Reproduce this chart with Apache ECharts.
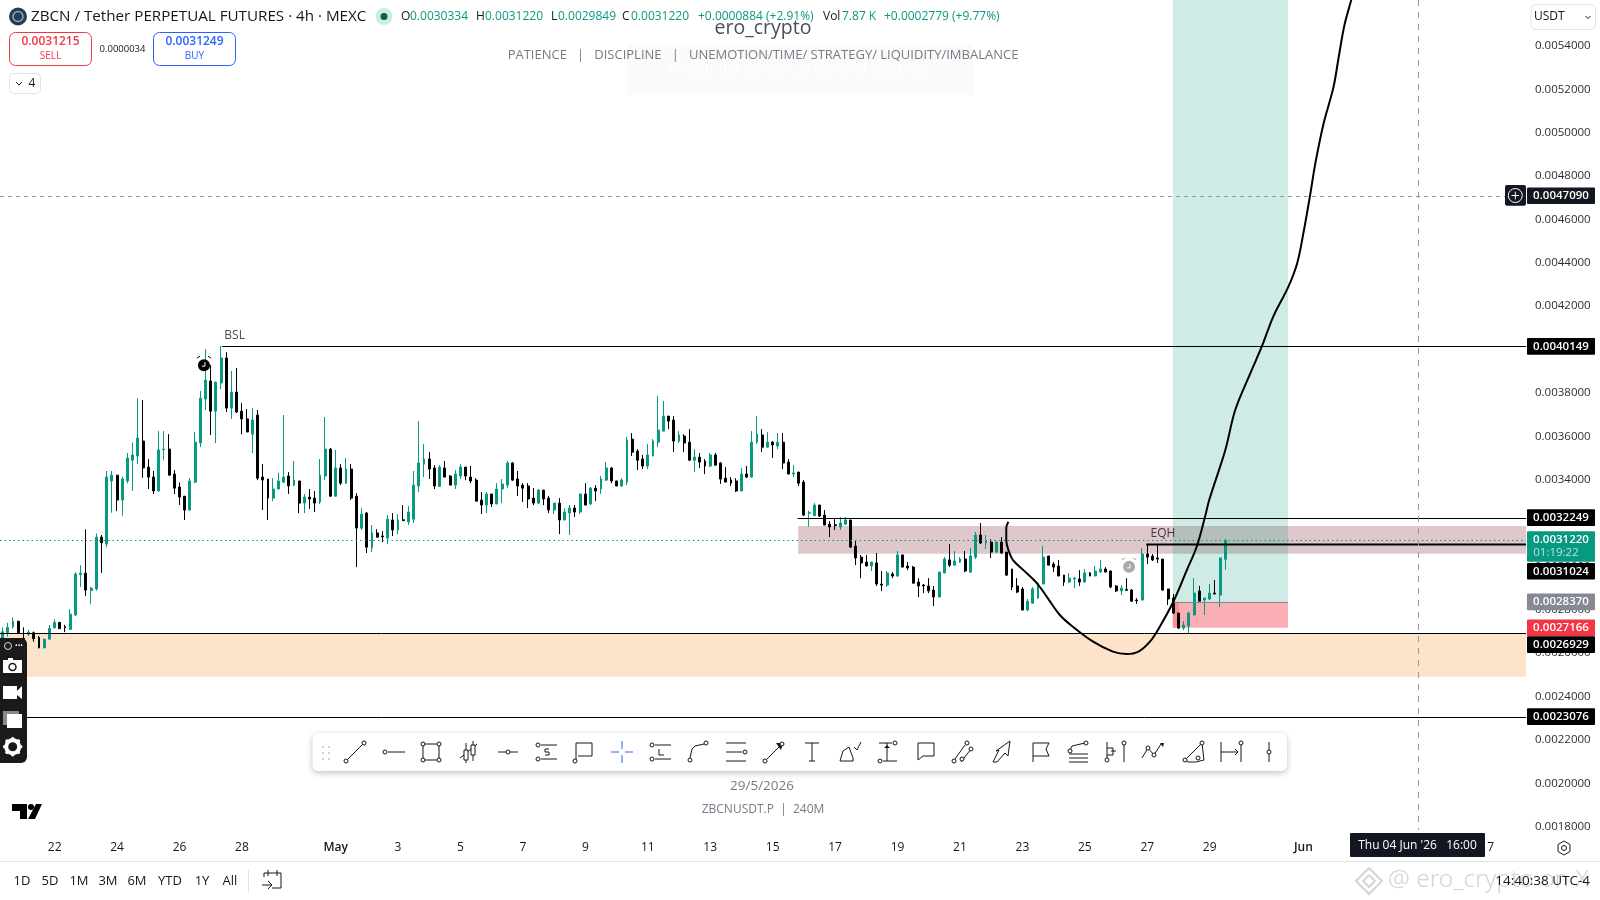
<!DOCTYPE html>
<html><head><meta charset="utf-8">
<style>html,body{margin:0;padding:0;background:#fff}#c{width:1600px;height:900px}</style>
<script src="https://cdn.jsdelivr.net/npm/echarts@6/dist/echarts.min.js"></script>
</head><body><div id="c"></div>
<script>
// All prices below are in millionths of USDT.
const MICRO = 1e-6;
const slotCount = 294;
// Candles: [open, close, low, high]
const candles = [
[2668,2699,2645,2719],[2694,2719,2676,2740],[2722,2747,2714,2765],[2747,2694,2688,2750],[2668,2664,2660,2719],[2688,2697,2679,2707],[2694,2667,2653,2700],[2673,2625,2622,2679],[2625,2664,2622,2668],[2665,2714,2660,2730],
[2717,2742,2714,2757],[2742,2713,2712,2742],[2722,2717,2697,2731],[2710,2780,2707,2803],[2776,2965,2771,2973],[2962,2969,2906,3006],[2969,2891,2863,3171],[2889,2900,2826,2906],[2896,3135,2888,3152],[3135,3109,2971,3145],
[3103,3412,3089,3440],[3394,3421,3248,3440],[3421,3306,3255,3421],[3306,3403,3234,3414],[3394,3500,3383,3523],[3490,3514,3348,3570],[3509,3592,3472,3775],[3578,3454,3409,3767],[3458,3412,3357,3495],[3412,3348,3334,3440],
[3348,3537,3346,3624],[3538,3541,3490,3624],[3541,3421,3420,3610],[3426,3361,3334,3444],[3366,3320,3283,3387],[3324,3260,3214,3324],[3260,3394,3258,3407],[3389,3573,3384,3620],[3569,3776,3550,3809],[3772,3859,3721,4002],
[3855,3716,3606,3929],[3716,3850,3569,3852],[3846,3961,3818,4016],[3961,3730,3712,3988],[3730,3804,3680,3901],[3804,3712,3707,3915],[3716,3680,3610,3753],[3680,3620,3619,3726],[3610,3675,3523,3730],[3698,3407,3398,3721],
[3412,3398,3260,3472],[3403,3315,3214,3403],[3315,3357,3301,3407],[3357,3394,3356,3431],[3389,3412,3384,3698],[3417,3371,3334,3435],[3375,3398,3371,3486],[3394,3292,3246,3394],[3292,3320,3246,3334],[3320,3311,3265,3357],
[3315,3292,3251,3348],[3297,3421,3288,3495],[3417,3541,3398,3689],[3541,3324,3320,3546],[3324,3454,3323,3537],[3454,3384,3375,3472],[3384,3449,3380,3500],[3449,3315,3306,3472],[3324,3177,2997,3338],[3177,3241,3168,3269],
[3246,3089,3062,3251],[3085,3154,3066,3191],[3154,3135,3134,3172],[3140,3137,3112,3163],[3131,3218,3103,3237],[3214,3168,3140,3246],[3168,3214,3149,3241],[3215,3211,3210,3283],[3205,3251,3191,3278],[3218,3375,3200,3440],
[3371,3477,3343,3670],[3472,3495,3412,3564],[3495,3449,3403,3527],[3454,3371,3357,3467],[3369,3458,3366,3467],[3454,3412,3411,3486],[3417,3375,3374,3421],[3375,3426,3357,3444],[3417,3458,3403,3472],[3458,3417,3398,3458],
[3412,3394,3384,3463],[3398,3301,3300,3407],[3306,3283,3242,3343],[3283,3334,3246,3343],[3334,3288,3274,3334],[3288,3357,3287,3384],[3357,3380,3292,3403],[3375,3477,3361,3486],[3477,3398,3394,3481],[3403,3371,3325,3440],
[3375,3361,3297,3384],[3371,3311,3269,3384],[3315,3292,3283,3361],[3292,3352,3288,3357],[3352,3311,3283,3352],[3315,3260,3246,3325],[3260,3292,3242,3292],[3292,3214,3149,3315],[3214,3251,3213,3269],[3246,3269,3145,3283],
[3269,3251,3228,3283],[3251,3334,3242,3335],[3334,3283,3282,3384],[3288,3361,3283,3366],[3361,3348,3301,3375],[3357,3403,3334,3417],[3398,3454,3394,3481],[3454,3394,3384,3458],[3394,3371,3370,3395],[3371,3398,3366,3407],
[3389,3583,3375,3597],[3587,3527,3509,3615],[3532,3490,3444,3541],[3495,3463,3449,3514],[3463,3514,3449,3564],[3509,3578,3508,3587],[3573,3629,3550,3786],[3624,3693,3623,3763],[3693,3670,3633,3694],[3675,3578,3527,3693],
[3578,3606,3569,3624],[3601,3569,3527,3610],[3573,3490,3486,3633],[3490,3504,3435,3541],[3504,3481,3454,3523],[3486,3463,3426,3495],[3463,3514,3458,3523],[3514,3467,3466,3523],[3477,3403,3380,3481],[3407,3389,3388,3458],
[3398,3384,3371,3412],[3394,3348,3343,3407],[3348,3426,3347,3454],[3426,3412,3407,3463],[3412,3573,3411,3624],[3573,3610,3564,3693],[3606,3550,3527,3633],[3550,3573,3549,3619],[3573,3560,3500,3578],[3555,3573,3541,3615],
[3573,3477,3449,3615],[3481,3426,3425,3495],[3426,3431,3412,3467],[3435,3384,3371,3436],[3389,3237,3232,3398],[3245,3248,3183,3257],[3234,3283,3233,3292],[3283,3232,3228,3284],[3237,3191,3190,3260],[3195,3182,3135,3209],
[3192,3189,3168,3218],[3182,3200,3168,3228],[3195,3214,3191,3228],[3214,3089,3085,3215],[3094,3039,3006,3122],[3043,3016,2946,3053],[3020,3002,3001,3053],[3002,3020,2979,3021],[3016,2919,2910,3062],[2919,2914,2886,2979],
[2914,2970,2905,2979],[2965,2956,2946,2974],[2956,3053,2951,3071],[3053,2997,2996,3054],[3002,2993,2983,3020],[2997,2923,2922,3002],[2928,2910,2859,2946],[2914,2910,2877,2919],[2910,2887,2877,2946],[2891,2859,2817,2910],
[2859,2974,2858,2975],[2970,3034,2969,3043],[3030,3006,2997,3103],[3006,3025,3005,3071],[3020,3034,3016,3043],[3034,2979,2974,3071],[2974,3048,2970,3085],[3043,3145,3034,3159],[3145,3108,3103,3200],[3108,3117,3080,3145],
[3112,3066,3039,3126],[3066,3112,3062,3117],[3112,3062,3057,3135],[3066,2960,2956,3067],[2988,2905,2891,2989],[2910,2882,2877,2946],[2896,2799,2798,2905],[2799,2840,2794,2850],[2831,2896,2827,2905],[2854,2923,2850,2928],
[2919,3043,2918,3094],[3048,3006,3005,3049],[3011,2997,2974,3020],[3002,2956,2955,3030],[2960,2928,2910,2961],[2928,2946,2923,2970],[2942,2946,2900,2951],[2942,2928,2910,2983],[2928,2970,2927,2988],[2970,2956,2955,2974],
[2956,2979,2955,3002],[2974,2988,2970,3030],[2988,2974,2973,2997],[2979,2905,2900,2980],[2910,2887,2882,2914],[2887,2900,2868,2914],[2894,2890,2887,2946],[2891,2840,2836,2896],[2845,2842,2827,2854],[2845,3057,2844,3085],
[3057,3043,3011,3103],[3048,3030,3025,3057],[3039,3034,3016,3099],[3034,2891,2890,3035],[2896,2850,2822,2897],[2854,2785,2780,2873],[2785,2716,2711,2786],[2716,2730,2707,2748],[2725,2785,2693,2790],[2776,2877,2775,2946],
[2887,2840,2839,2910],[2845,2854,2776,2855],[2850,2877,2845,2919],[2877,2873,2872,2937],[2868,3039,2813,3040],[3033,3122,2985,3122]
];
// Date tick labels by candle slot
const tickSlots = [10,22,34,46,64,76,88,100,112,124,136,148,160,172,184,196,208,220,232,250,262,274,286];
const tickTexts = ['22','24','26','28','May','3','5','7','9','11','13','15','17','19','21','23','25','27','29','Jun','3','5','7'];
// Hand-drawn forecast curve: slot, price
const curveSlots = [193.3,192.9,192.9,193.3,194.2,196.2,198.8,200.7,203.2,205.7,209.6,213.4,216,218.3,220.5,222.4,225,227.6,229.5,231.1,231.9,235,236.9,239.8,242,244.2,247.1,248.8,250,251.3,252.3,253.9,255.8,256.8,257.9,259.2,261];
const curvePrices = [3206,3177,3122,3076,3029,2983,2922,2860,2776,2722,2653,2607,2596,2607,2653,2722,2837,2983,3091,3229,3306,3537,3721,3890,4013,4151,4289,4397,4536,4712,4858,5043,5211,5350,5496,5611,5772];
// Zones: start slot, end slot, top price, bottom price
const zones = [[-0.5,292.8,2692.9,2492],[152.9,292.8,3186,3058],[224.9,247.05,5800,2837],[224.9,247.05,2837,2717],[224.9,226.1,2837,2717]];
const zoneFills = ['#fde3c9','#dfc8cb','rgba(8,153,129,0.2)','rgba(242,54,69,0.4)','rgba(242,54,69,0.25)'];
// Level lines: start slot, end slot, price
const levels = [[42.2,292.8,4014.9],[152.8,292.8,3224.9],[219.8,292.8,3102.4],[-0.5,292.8,2692.9],[-0.5,292.8,2307.6]];
const levelWidths = [1,1,2,1,1];
const positionTop = [[224.9,247.05,2837]];
const lastPrice = [[-0.5,292.8,3122]];
const crossPrice = 4709;
const crossSlot = 272;
const crossBottom = 1785;
// Price tags on the right axis
const tagPrices = [4014.9,3224.9,3122.0,3102.4,2837.0,2716.6,2692.9,2307.6,4709.0];
const tagColors = ['#000','#000','#089981','#000','#868993','#f23645','#000','#000','#131722'];
const tagNudges = [0,0,6.5,27,0,0,11.5,0,0];
const tagCountdown = ['','','01:19:22','','','','','',''];
// Notes and alerts on the chart
const noteTexts = ['BSL','EQH'];
const noteSlots = [44.6,223];
const notePrices = [4064,3153];
const alertSlots = [38.7,216.5];
const alertPrices = [3928,2998];
const alertColors = ['#000','#a8a8a8'];
const rangeButtons = ['1D','5D','1M','3M','6M','YTD','1Y','All'];
const rangeX = [22,50,79,108,137,170,202,230];

const FONT = '"Open Sans","Noto Sans",sans-serif';
const INK = '#131722';
const tickMap = {}; tickSlots.forEach((s,i)=>tickMap[s]=tickTexts[i]);
const categories = Array.from({length:slotCount},(_,i)=>'c'+i);
const px = v => v*MICRO;

function renderZone(p,api){
  const z=zones[p.dataIndex];
  const a=api.coord([z[0],px(z[2])]),b=api.coord([z[1],px(z[3])]);
  return {type:'rect',shape:{x:a[0],y:a[1],width:b[0]-a[0],height:b[1]-a[1]},style:{fill:zoneFills[p.dataIndex]}};
}
function lineRenderer(rows,widthOf,stroke,dash){
  return (p,api)=>{
    const r=rows[p.dataIndex];
    const a=api.coord([r[0],px(r[2])]),b=api.coord([r[1],px(r[2])]);
    const y=Math.round(a[1])+0.5;
    return {type:'line',shape:{x1:a[0],y1:y,x2:b[0],y2:y},style:{stroke,lineWidth:widthOf(p.dataIndex),lineDash:dash||null}};
  };
}
function renderTag(p,api){
  const i=p.dataIndex, c=api.coord([0,px(tagPrices[i])]);
  const two=!!tagCountdown[i];
  const cy=c[1]+tagNudges[i], h=two?30.7:16.7, top=cy-h/2;
  const kids=[{type:'rect',shape:{x:1527,y:top,width:68,height:h,r:1},style:{fill:tagColors[i]}},
    {type:'text',style:{x:1561,y:two?top+9:cy,text:px(tagPrices[i]).toFixed(7),fill:'#fff',font:'600 11.5px '+FONT,align:'center',verticalAlign:'middle'}}];
  if(two) kids.push({type:'text',style:{x:1556,y:top+22,text:tagCountdown[i],fill:'#b5e3da',font:'11.5px '+FONT,align:'center',verticalAlign:'middle'}});
  return {type:'group',children:kids};
}
function renderAlert(p,api){
  const c=api.coord([alertSlots[p.dataIndex],px(alertPrices[p.dataIndex])]), col=alertColors[p.dataIndex];
  const [x,y]=c;
  return {type:'group',children:[
    {type:'circle',shape:{cx:x,cy:y,r:6},style:{fill:col}},
    {type:'line',shape:{x1:x-7,y1:y-7,x2:x-4,y2:y-9},style:{stroke:col,lineWidth:1}},
    {type:'line',shape:{x1:x+7,y1:y-7,x2:x+4,y2:y-9},style:{stroke:col,lineWidth:1}},
    {type:'polyline',shape:{points:[[x+1,y-3],[x+1,y+1],[x-2,y+1]]},style:{stroke:'#fff',fill:'none',lineWidth:1}}
  ]};
}

// ---------- interface chrome ----------
const g=[]; const Z=50;
const T=(x,y,text,o={})=>g.push({type:'text',z:o.z||Z,x,y,style:{text,fill:o.fill||INK,font:(o.w?o.w+' ':'')+(o.s||13)+'px '+(o.f||FONT),align:o.a||'left',textAlign:o.a||'left',verticalAlign:'middle',textVerticalAlign:'middle',opacity:o.op==null?1:o.op}});
const R=(x,y,w,h,o={})=>g.push({type:'rect',z:o.z||Z,shape:{x,y,width:w,height:h,r:o.r||0},style:{fill:o.fill||'none',stroke:o.stroke||null,lineWidth:o.lw||1,shadowBlur:o.sb||0,shadowColor:o.sc||'transparent',shadowOffsetY:o.sy||0}});
const P=(pts,o={})=>{const a=[];for(let i=0;i<pts.length;i+=2)a.push([pts[i],pts[i+1]]);g.push({type:o.fill?'polygon':'polyline',z:o.z||Z,shape:{points:a},style:{fill:o.fill||'none',stroke:o.fill?null:(o.stroke||INK),lineWidth:o.lw||1}});};
const O=(x,y,r,o={})=>g.push({type:'circle',z:o.z||Z,shape:{cx:x,cy:y,r},style:{fill:o.fill||'#fff',stroke:o.stroke===undefined?INK:o.stroke,lineWidth:o.lw||1}});

// header
O(18,16.5,9,{fill:'#2b3a55',stroke:null}); O(18,16.5,5,{fill:'#2b3a55',stroke:'#6fb7c4',lw:1.5});
T(31,16.5,'ZBCN / Tether PERPETUAL FUTURES · 4h · MEXC',{s:15.2});
O(384,16.5,8.5,{fill:'rgba(8,153,129,0.2)',stroke:null}); O(384,16.5,3.5,{fill:'#0b5f50',stroke:null});
const hdrG='#089981';
[['O',401],['0.0030334',410],['H',476],['0.0031220',485],['L',551],['0.0029849',558],['C',622],['0.0031220',631],['+0.0000884 (+2.91%)',698],['Vol',823],['7.87 K',842],['+0.0002779 (+9.77%)',884]].forEach(([t,x])=>{
  T(x,16.5,t,{s:12,fill:/^[OHLC]$|^Vol$/.test(t)?INK:hdrG});
});
R(9.5,32.5,82,33,{stroke:'#f23645',r:6,fill:'#fff'});
T(50.5,42,'0.0031215',{a:'center',fill:'#f23645',s:12,w:600}); T(50.5,56.5,'SELL',{a:'center',fill:'#f23645',s:10});
T(122.5,49,'0.0000034',{a:'center',s:9.5});
R(153.5,32.5,82,33,{stroke:'#2962ff',r:6,fill:'#fff'});
T(194.5,42,'0.0031249',{a:'center',fill:'#2962ff',s:12,w:600}); T(194.5,56.5,'BUY',{a:'center',fill:'#2962ff',s:10});
R(9.5,73.5,31,20,{stroke:'#e0e3eb',r:4,fill:'#fff'});
P([16,82,19,85,22,82]); T(32,83.5,'4',{a:'center',s:12});
// centre captions
R(627.5,45,345.5,50,{fill:'#fafafa'});
T(800,70,'To exit full screen, press and hold  Esc',{a:'center',fill:'#fff',s:15});
T(763,28.5,'ero_crypto',{a:'center',s:19.5,fill:'#4a4d57'});
T(763,55.5,'PATIENCE   |   DISCIPLINE   |   UNEMOTION/TIME/ STRATEGY/ LIQUIDITY/IMBALANCE',{a:'center',s:13,fill:'#787b86'});
// unit box
R(1531,4.5,64.5,25,{stroke:'#e0e3eb',r:5,fill:'#fff'});
T(1534,17,'USDT',{s:12}); P([1585.5,16,1588,18.5,1590.5,16]);
// crosshair controls
R(1505,185,21,20.7,{fill:'#131722',r:2}); O(1515.3,195.5,7,{fill:'none',stroke:'#fff'});
P([1511.5,195.5,1519,195.5],{stroke:'#fff'}); P([1515.3,191.7,1515.3,199.3],{stroke:'#fff'});
// left sidebar
R(0,638,27,125,{fill:'#1a1a1a',r:[0,6,6,0]});
O(8,646,3.5,{fill:'none',stroke:'#ddd'}); T(19,646,'•••',{a:'center',fill:'#fff',s:7});
R(3,660,19,13,{fill:'#fff'}); R(8,658,5,3,{fill:'#fff'}); O(12.5,667,3.5,{fill:'#fff',stroke:'#1a1a1a',lw:1.5});
R(3,686,14,13,{fill:'#fff'}); P([17,691,22,686,22,699,17,695],{fill:'#fff'});
R(3,711,16,14,{fill:'#8a8a8a'}); R(7,714,15,14,{fill:'#fff'});
O(12.7,746.7,6.5,{fill:'#1a1a1a',stroke:'#fff',lw:4});
for(let k=0;k<8;k++){const a=k*Math.PI/4;O(12.7+8*Math.cos(a),746.7+8*Math.sin(a),1.8,{fill:'#fff',stroke:null});}
// TradingView mark
P([12,804,27,804,27,819,20,819,20,811,12,811],{fill:'#000'}); O(31,807,3,{fill:'#000',stroke:null}); P([36,804,42,804,35,819,28,819],{fill:'#000'});
// drawing toolbar
R(312.5,733,974.5,38,{fill:'#fff',r:6,sb:6,sc:'rgba(0,0,0,0.25)',sy:2});
[[322,746],[328,746],[322,752],[328,752],[322,758],[328,758]].forEach(([x,y])=>R(x,y,2,2,{fill:'#d1d4dc'}));
const iconX=[355,394,431,469,508,547,584,622,661,698,736,774,812,850,887,926,964,1002,1041,1078,1116,1153,1194,1231,1269];
const iconY=752;
const icons=[
 {l:[[-8,8,8,-8]],c:[[-9,9],[9,-9]]},
 {l:[[-6,0,11,0]],c:[[-9,0]]},
 {l:[[-8,-8,8,-8,8,8,-8,8,-8,-8]],c:[[-8,-8],[8,-8],[-8,8],[8,8]]},
 {l:[[-3,-9,-3,11],[4,-11,4,9],[-9,6,-5,3,8,-8]],r:[[-5,-2,4,10],[2,-7,4,10]]},
 {l:[[-10,0,10,0]],c:[[0,0]]},
 {l:[[-6,-7,10,-7],[-6,7,10,7],[2,-3,-2,-3,-2,0,2,0,2,3,-2,3]],c:[[-9,-7],[-9,7]]},
 {l:[[-8,8,-8,-9,8,-9,8,4,-6,4]],c:[[-9,9]]},
 {l:[[0,-11,0,-3],[0,3,0,11],[-11,0,-3,0],[3,0,11,0]],blue:1},
 {l:[[-6,-7,10,-7],[-6,7,10,7],[-2,-3,-2,3,3,3]],c:[[-9,-7],[-9,7]]},
 {l:[[-8,6,-6,-3,-3,-6,6,-8]],c:[[-8,8],[8,-9]]},
 {l:[[-10,-9,10,-9],[-10,0,6,0],[-10,9,10,9]],c:[[9,0]]},
 {l:[[-8,8,6,-6]],c:[[-9,9],[8,-8]],f:[[2,-9,9,-9,7,-2]]},
 {l:[[-7,-9,7,-9],[0,-9,0,9],[-3,9,3,9]]},
 {l:[[-10,9,-7,-1,-1,-5,3,6,3,9,-10,9],[4,-5,7,-2,11,-10]]},
 {l:[[-8,-9,5,-9],[-4,9,10,9],[0,-9,0,9]],c:[[8,-9],[-7,9]],f:[[-3,-4,3,-4,0,-7]]},
 {l:[[-8,8,-8,-9,8,-9,8,4,-3,4,-8,8]]},
 {l:[[-9,7,1,-7],[-3,10,7,-3]],c:[[-10,9],[3,-9],[-2,7],[7,-3]]},
 {l:[[-9,10,-3,-2,-6,-1,8,-11,6,4,3,1,-5,10,-9,10]]},
 {l:[[-8,10,-8,-9,8,-9,5,-3,8,4,-8,4]]},
 {l:[[-8,-2,-6,-6,7,-9],[-9,2,10,2],[-9,6,10,6],[-9,10,10,10]],c:[[-8,-1],[8,-9]]},
 {l:[[-9,-10,-9,10],[-9,-4,-3,-4,-3,3,-9,3],[-5,-1,0,-1],[8,-7,8,10]],c:[[8,-9],[-9,8]]},
 {l:[[-11,6,-5,-4,1,3,8,-8]],c:[[-5,-4],[1,3]],f:[[7,-9,11,-9,10,-5]]},
 {l:[[-9,8,8,-9,10,8,2,10,-6,10,-9,8]],c:[[-9,8],[8,-9],[4,6]]},
 {l:[[-10,-10,-10,10],[10,-10,10,10],[-10,0,7,0],[4,-3,7,0,4,3]],c:[[10,-9]]},
 {l:[[0,-10,0,10]],c:[[0,0]]}
];
icons.forEach((ic,n)=>{
  const cx=iconX[n],cy=iconY;
  (ic.l||[]).forEach(a=>P(a.map((v,j)=>v+(j%2?cy:cx)),{stroke:ic.blue?'#2962ff':INK,z:Z+1}));
  (ic.r||[]).forEach(r=>R(cx+r[0],cy+r[1],r[2],r[3],{stroke:INK,fill:'#fff',z:Z+1}));
  (ic.f||[]).forEach(a=>P(a.map((v,j)=>v+(j%2?cy:cx)),{fill:INK,z:Z+1}));
  (ic.c||[]).forEach(c=>O(cx+c[0],cy+c[1],2,{z:Z+2}));
});
T(762,786,'29/5/2026',{a:'center',s:13.5,fill:'#787b86'});
T(763,810,'ZBCNUSDT.P  |  240M',{a:'center',s:12,fill:'#787b86'});
// date axis chrome
R(1350,833,135,24,{fill:'#131722',r:1});
T(1417.5,846,"Thu 04 Jun '26   16:00",{a:'center',fill:'#fff',s:12,w:500});
g.push({type:'polygon',z:Z,shape:{points:[[1564,841],[1570,844.5],[1570,851.5],[1564,855],[1558,851.5],[1558,844.5]]},style:{fill:'#fff',stroke:INK,lineWidth:1}});
O(1564,848,2.5);
// footer
g.push({type:'line',z:Z,shape:{x1:0,y1:861.5,x2:1600,y2:861.5},style:{stroke:'#e0e3eb',lineWidth:1}});
rangeButtons.forEach((t,i)=>T(rangeX[i],881,t,{a:'center',s:13}));
g.push({type:'line',z:Z,shape:{x1:248.5,y1:870,x2:248.5,y2:892},style:{stroke:'#e0e3eb',lineWidth:1}});
P([264,877,264,873,281,873,281,888,272,888]);P([268,870,268,876]);P([277,870,277,876]);P([262,885,272,885]);P([268,881,272,885,268,889]);
P([1369,868,1382,881,1369,894,1356,881,1369,868],{stroke:'#d4d4d4',lw:2});
P([1369,875,1375,881,1369,887,1363,881,1369,875],{stroke:'#d4d4d4',lw:2});
T(1388,880,'@ ero_crypto on X',{s:24.5,fill:'#d4d4d4',f:'"Noto Sans",sans-serif',w:300});
T(1590,881,'14:40:38 UTC-4',{a:'right',s:13.5,z:Z+1});

const chart=echarts.init(document.getElementById('c'),null,{renderer:'canvas',width:1600,height:900});
chart.setOption({
  animation:false,backgroundColor:'#fff',
  grid:{left:0,width:1529.7,top:2.5,height:867.6,containLabel:false,outerBoundsMode:'none'},
  xAxis:[
    {type:'category',data:categories,boundaryGap:true,axisLine:{show:false},axisTick:{show:false},splitLine:{show:false},
     axisLabel:{inside:true,margin:17,interval:(i)=>tickMap[i]!==undefined,color:INK,fontSize:12,fontFamily:FONT,
       formatter:(v,i)=>{const t=tickMap[i];return t===undefined?'':(/^[A-Z]/.test(t)?'{b|'+t+'}':t);},
       rich:{b:{fontWeight:600,fontSize:12,fontFamily:FONT,color:INK}}}},
    {type:'value',show:false,min:-0.5,max:slotCount-0.5,splitLine:{show:false}}
  ],
  yAxis:{type:'value',position:'right',min:0.0016,max:0.0056,interval:0.0002,scale:true,axisLine:{show:false},axisTick:{show:false},splitLine:{show:false},
    axisLabel:{margin:5.3,color:'#2a2e39',fontSize:11.5,fontFamily:FONT,
      formatter:v=>(v<0.00175||v>0.00545)?'':v.toFixed(7)}},
  graphic:{elements:g},
  series:[
    {type:'custom',name:'zones',xAxisIndex:1,z:1,silent:true,data:zones.map((z,i)=>[i]),renderItem:renderZone},
    {type:'candlestick',name:'ZBCNUSDT.P',z:2,silent:true,barWidth:2.4,data:candles.map(r=>r.map(px)),
      itemStyle:{color:'#089981',borderColor:'#089981',color0:'#000',borderColor0:'#000',borderWidth:1}},
    {type:'custom',name:'lastPrice',xAxisIndex:1,z:3,silent:true,data:[[0]],renderItem:lineRenderer(lastPrice,()=>1,'#089981',[1.5,3])},
    {type:'custom',name:'levels',xAxisIndex:1,z:3,silent:true,data:levels.map((z,i)=>[i]),renderItem:lineRenderer(levels,i=>levelWidths[i],'#000')},
    {type:'custom',name:'positionTop',xAxisIndex:1,z:3,silent:true,data:[[0]],renderItem:lineRenderer(positionTop,()=>1,'#868993')},
    {type:'custom',name:'crosshair',xAxisIndex:1,z:3,silent:true,data:[[0]],renderItem:(p,api)=>{
      const a=api.coord([-0.5,px(crossPrice)]),b=api.coord([crossSlot,px(5800)]),c=api.coord([crossSlot,px(crossBottom)]);
      const y=Math.round(a[1])+0.5,x=Math.round(b[0])+0.5;
      return {type:'group',children:[
        {type:'line',shape:{x1:0,y1:y,x2:1505,y2:y},style:{stroke:'#9598a1',lineDash:[4,4],lineWidth:1}},
        {type:'line',shape:{x1:x,y1:0,x2:x,y2:c[1]},style:{stroke:'#9598a1',lineDash:[6,6],lineWidth:1}}]};
    }},
    {type:'line',name:'forecast',xAxisIndex:1,z:4,silent:true,smooth:0.35,showSymbol:false,symbol:'none',clip:false,
      lineStyle:{color:'#000',width:2},data:curveSlots.map((s,i)=>[s,px(curvePrices[i])])},
    {type:'scatter',name:'notes',xAxisIndex:1,z:5,silent:true,symbolSize:0,data:noteSlots.map((s,i)=>[s,px(notePrices[i])]),
      label:{show:true,position:'inside',color:INK,fontSize:12,fontFamily:FONT,formatter:p=>noteTexts[p.dataIndex]}},
    {type:'custom',name:'alerts',xAxisIndex:1,z:6,silent:true,data:alertSlots.map((s,i)=>[i]),renderItem:renderAlert},
    {type:'custom',name:'priceTags',xAxisIndex:1,z:20,silent:true,data:tagPrices.map((s,i)=>[i]),renderItem:renderTag}
  ]
});
</script></body></html>
